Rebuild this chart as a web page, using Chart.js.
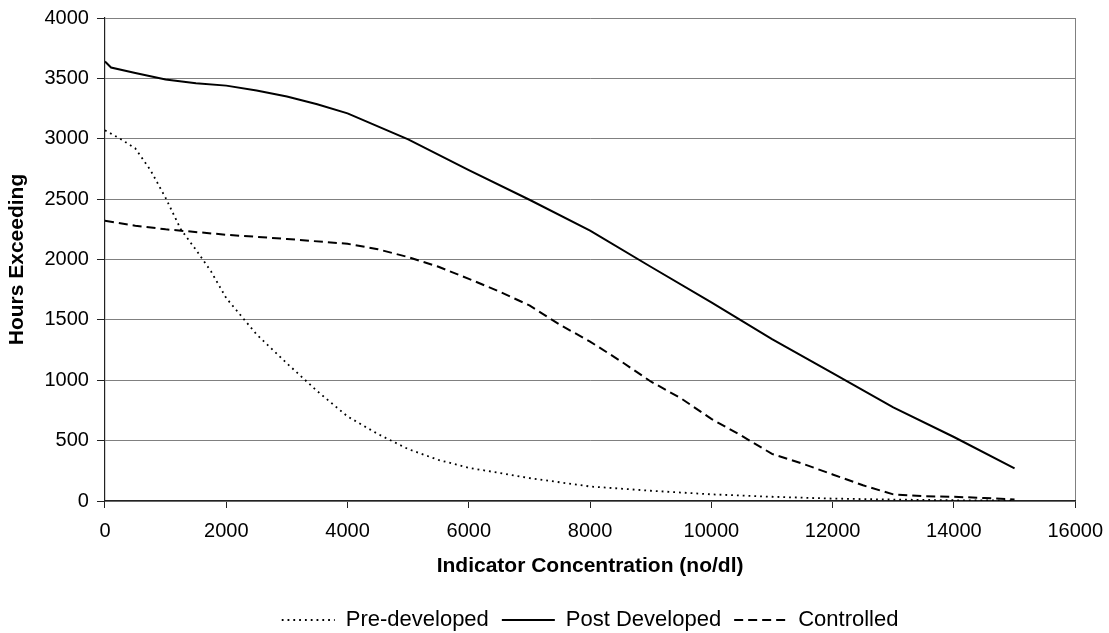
<!DOCTYPE html>
<html>
<head>
<meta charset="utf-8">
<script src="https://cdn.jsdelivr.net/npm/chart.js@4"></script>
<style>
  html, body { margin: 0; padding: 0; background: #fff; }
  #wrap { width: 1109px; height: 633px; position: relative; }
</style>
</head>
<body>
<div id="wrap"><canvas id="c"></canvas></div>
<script>
// ---- data ----
const preX  = [0, 250, 500, 750, 1000, 1250, 1500, 1750, 2000, 2500, 3000, 3500, 4000, 4500, 5000, 5500, 6000, 7000, 8000, 9000, 10000, 11000, 12000, 13000, 14000, 15000];
const preY  = [3070, 3000, 2920, 2740, 2510, 2250, 2080, 1900, 1680, 1380, 1140, 910, 700, 555, 430, 340, 275, 190, 120, 85, 55, 35, 20, 12, 6, 3];

const postX = [0, 100, 500, 1000, 1500, 2000, 2500, 3000, 3500, 4000, 5000, 6000, 7000, 8000, 9000, 10000, 11000, 12000, 13000, 14000, 15000];
const postY = [3640, 3590, 3545, 3490, 3460, 3440, 3400, 3350, 3285, 3210, 2995, 2740, 2495, 2240, 1940, 1645, 1340, 1060, 775, 530, 270];

const ctrlX = [0, 500, 1000, 2000, 3000, 4000, 4500, 5000, 5500, 6000, 6500, 7000, 7500, 8000, 8500, 9000, 9500, 10000, 10500, 11000, 11500, 12000, 12500, 13000, 13500, 14000, 14500, 15000];
const ctrlY = [2320, 2280, 2250, 2205, 2170, 2130, 2085, 2020, 1940, 1840, 1735, 1620, 1460, 1320, 1160, 990, 850, 680, 540, 390, 310, 220, 130, 55, 40, 35, 25, 12];

const seriesNames = ['Pre-developed', 'Post Developed', 'Controlled'];
const xTickStep = 2000, xMin = 0, xMax = 16000;
const yTickStep = 500, yMin = 0, yMax = 4000;
const xTitle = 'Indicator Concentration (no/dl)';
const yTitle = 'Hours Exceeding';

const pts = (xs, ys) => xs.map((x, i) => ({ x: x, y: ys[i] }));
const FONT = '"Liberation Sans", Arial, sans-serif';

new Chart(document.getElementById('c'), {
  type: 'line',
  data: {
    datasets: [
      { label: seriesNames[0], data: pts(preX, preY), borderColor: '#000', backgroundColor: '#000',
        borderWidth: 1.8, borderDash: [1.8, 4], pointRadius: 0, tension: 0, fill: false },
      { label: seriesNames[1], data: pts(postX, postY), borderColor: '#000', backgroundColor: '#000',
        borderWidth: 2, borderDash: [], pointRadius: 0, tension: 0, fill: false },
      { label: seriesNames[2], data: pts(ctrlX, ctrlY), borderColor: '#000', backgroundColor: '#000',
        borderWidth: 2, borderDash: [9, 5], pointRadius: 0, tension: 0, fill: false }
    ]
  },
  options: {
    responsive: true,
    maintainAspectRatio: false,
    animation: false,
    layout: { padding: { top: 16, right: 30, bottom: -8, left: 0 } },
    plugins: {
      tooltip: { enabled: false },
      legend: {
        position: 'bottom',
        fullSize: false,
        labels: {
          usePointStyle: true,
          pointStyle: 'line',
          pointStyleWidth: 53,
          padding: 13,
          color: '#000',
          font: { family: FONT, size: 22 },
          generateLabels: (chart) => {
            const items = Chart.defaults.plugins.legend.labels.generateLabels(chart);
            items.forEach((it) => {
              const ds = chart.data.datasets[it.datasetIndex];
              it.lineDash = ds.borderDash;
              it.lineWidth = ds.borderWidth;
              it.strokeStyle = ds.borderColor;
              it.pointStyle = 'line';
            });
            return items;
          }
        }
      }
    },
    scales: {
      x: {
        type: 'linear',
        min: xMin, max: xMax,
        ticks: { stepSize: xTickStep, color: '#000', padding: 6, maxRotation: 0,
                 callback: (v) => String(v),
                 font: { family: FONT, size: 20, lineHeight: 1.7 } },
        grid: {
          drawOnChartArea: true,
          color: (c) => (c.tick && c.tick.value === xMax) ? '#808080' : 'rgba(0,0,0,0)',
          tickColor: '#222',
          tickLength: 7,
          lineWidth: 1
        },
        border: { color: '#222', width: 1.2 },
        title: { display: true, text: xTitle, color: '#000',
                 font: { family: FONT, size: 21, weight: 'bold' },
                 padding: { top: 0, bottom: 16.8 } }
      },
      y: {
        type: 'linear',
        min: yMin, max: yMax,
        ticks: { stepSize: yTickStep, color: '#000', padding: 8,
                 callback: (v) => String(v),
                 font: { family: FONT, size: 20, lineHeight: 1.0 } },
        grid: { color: '#808080', tickColor: '#222', tickLength: 8, lineWidth: 1 },
        border: { color: '#222', width: 1.2 },
        title: { display: true, text: yTitle, color: '#000',
                 font: { family: FONT, size: 21, weight: 'bold' },
                 padding: { top: 5, bottom: 6.3 } }
      }
    }
  }
});
</script>
</body>
</html>
